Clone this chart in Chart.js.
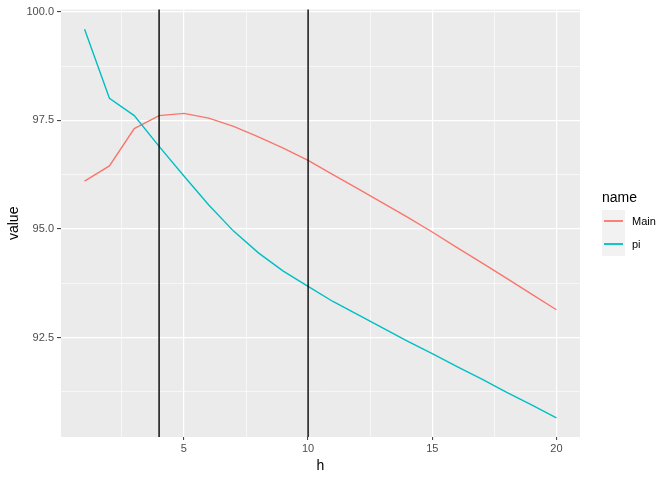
<!DOCTYPE html>
<html lang="en">
<head>
<meta charset="UTF-8">
<title>value by h</title>
<script src="https://cdn.jsdelivr.net/npm/chart.js"></script>
<style>
  html, body { margin: 0; padding: 0; background: #fff; }
  .wrap { position: relative; width: 672px; height: 480px; }
  canvas { display: block; }
  .legend { position: absolute; left: 602px; top: 189px; font-family: "Liberation Sans", Arial, sans-serif; color: #000; }
  .legend-title { font-size: 14px; line-height: 17px; height: 21px; }
  .legend-row { position: relative; height: 23px; }
  .legend-key { position: absolute; left: 0; top: 0; width: 23px; height: 23px; background: #F2F2F2; }
  .legend-key span { position: absolute; left: 2px; top: 10px; width: 19px; height: 2px; opacity: 0.9; }
  .legend-label { position: absolute; left: 30px; top: 0; line-height: 23px; font-size: 11px; color: #000; }
</style>
</head>
<body>
<div class="wrap">
  <canvas id="chart" width="672" height="480"></canvas>
  <div class="legend" id="legend"></div>
</div>
<script>
    const hValues = [1, 2, 3, 4, 5, 6, 7, 8, 9, 10, 11, 12, 13, 14, 15, 16, 17, 18, 19, 20];
    const mainValues = [96.10, 96.45, 97.31, 97.61, 97.66, 97.55, 97.36, 97.12, 96.86, 96.58,
                        96.25, 95.93, 95.60, 95.27, 94.93, 94.57, 94.22, 93.86, 93.50, 93.14];
    const piValues = [99.60, 98.01, 97.61, 96.90, 96.22, 95.55, 94.95, 94.45, 94.03, 93.68,
                      93.33, 93.03, 92.72, 92.42, 92.13, 91.83, 91.54, 91.24, 90.95, 90.65];
    const seriesNames = ['Main', 'pi'];
    const seriesColors = ['#F8766D', '#00BFC4'];
    const vLines = [4, 10];
    const xTicks = [2.5, 5, 7.5, 10, 12.5, 15, 17.5, 20];
    const yTicks = [91.25, 92.5, 93.75, 95, 96.25, 97.5, 98.75, 100];

    const font = '"Liberation Sans", Arial, sans-serif';
    // major breaks: multiples of 5 on x, multiples of 2.5 on y; the rest are minor grid lines
    const xMajor = v => Math.abs(v / 5 - Math.round(v / 5)) < 1e-6;
    const yMajor = v => Math.abs(v / 2.5 - Math.round(v / 2.5)) < 1e-6;

    const panel = {
        id: 'panel',
        beforeDraw(chart) {
            const {ctx, chartArea: a} = chart;
            ctx.save();
            ctx.fillStyle = '#EBEBEB';
            ctx.fillRect(a.left, a.top, a.right - a.left, a.bottom - a.top);
            ctx.restore();
        },
        afterDatasetsDraw(chart) {
            const {ctx, chartArea: a} = chart;
            ctx.save();
            ctx.strokeStyle = '#000';
            ctx.lineWidth = 1.4;
            vLines.forEach(v => {
                const x = chart.scales.x.getPixelForValue(v);
                ctx.beginPath();
                ctx.moveTo(x, a.top);
                ctx.lineTo(x, a.bottom);
                ctx.stroke();
            });
            ctx.restore();
        }
    };

    const datasets = [mainValues, piValues].map((vals, i) => ({
        label: seriesNames[i],
        data: hValues.map((h, j) => ({x: h, y: vals[j]})),
        borderColor: seriesColors[i],
        backgroundColor: seriesColors[i],
        borderWidth: 1.4,
        pointRadius: 0,
        tension: 0,
        order: seriesNames.length - i
    }));

    new Chart(document.getElementById('chart'), {
        type: 'line',
        data: {datasets},
        options: {
            responsive: false,
            animation: false,
            layout: {padding: {left: 0, top: 8, right: 92, bottom: 0}},
            plugins: {legend: {display: false}, tooltip: {enabled: false}},
            scales: {
                x: {
                    type: 'linear',
                    min: 0.05,
                    max: 20.95,
                    afterBuildTicks: s => { s.ticks = xTicks.map(v => ({value: v})); },
                    afterFit: s => { s.height = 43; },
                    border: {display: false},
                    grid: {
                        color: '#FFFFFF',
                        lineWidth: c => xMajor(c.tick.value) ? 1.2 : 0.6,
                        tickColor: c => xMajor(c.tick.value) ? '#333333' : 'rgba(0,0,0,0)',
                        tickLength: 3,
                        tickWidth: 1
                    },
                    ticks: {
                        autoSkip: false,
                        maxRotation: 0,
                        padding: 2,
                        color: '#4D4D4D',
                        font: {family: font, size: 11},
                        callback: v => xMajor(v) ? String(v) : ''
                    },
                    title: {
                        display: true,
                        text: 'h',
                        color: '#000',
                        font: {family: font, size: 14},
                        padding: {top: 0, bottom: 5}
                    }
                },
                y: {
                    min: 90.21,
                    max: 100.05,
                    afterBuildTicks: s => { s.ticks = yTicks.map(v => ({value: v})); },
                    afterFit: s => { s.width = 61; },
                    border: {display: false},
                    grid: {
                        color: '#FFFFFF',
                        lineWidth: c => yMajor(c.tick.value) ? 1.2 : 0.6,
                        tickColor: c => yMajor(c.tick.value) ? '#333333' : 'rgba(0,0,0,0)',
                        tickLength: 4,
                        tickWidth: 1
                    },
                    ticks: {
                        autoSkip: false,
                        padding: 3,
                        color: '#4D4D4D',
                        font: {family: font, size: 11},
                        callback: v => yMajor(v) ? v.toFixed(1) : ''
                    },
                    title: {
                        display: true,
                        text: 'value',
                        color: '#000',
                        font: {family: font, size: 14},
                        padding: {top: 6, bottom: 0}
                    }
                }
            }
        },
        plugins: [panel]
    });

    const legend = document.getElementById('legend');
    const title = document.createElement('div');
    title.className = 'legend-title';
    title.textContent = 'name';
    legend.appendChild(title);
    seriesNames.forEach((name, i) => {
        const row = document.createElement('div');
        row.className = 'legend-row';
        row.innerHTML = '<div class="legend-key"><span style="background:' + seriesColors[i] + '"></span></div>' +
            '<div class="legend-label">' + name + '</div>';
        legend.appendChild(row);
    });
</script>
</body>
</html>
